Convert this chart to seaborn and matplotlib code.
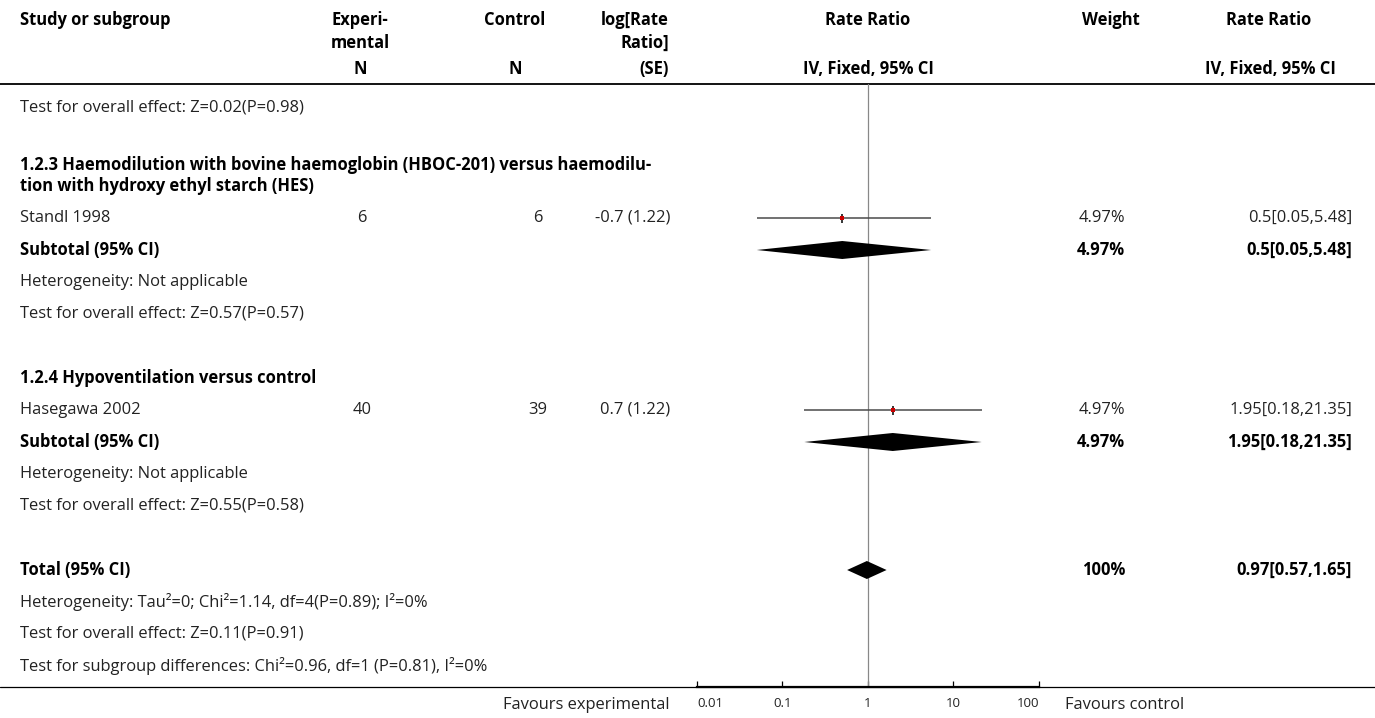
import numpy as np
import pandas as pd
import matplotlib
matplotlib.use("Agg")
import matplotlib.pyplot as plt
import seaborn as sns

# ---------------- data ----------------
prev_effect = "Test for overall effect: Z=0.02(P=0.98)"

subgroup_titles = [
    "1.2.3 Haemodilution with bovine haemoglobin (HBOC-201) versus haemodilu-\ntion with hydroxy ethyl starch (HES)",
    "1.2.4 Hypoventilation versus control",
]
studies = ["Standl 1998", "Hasegawa 2002"]
exp_n = [6, 40]
ctrl_n = [6, 39]
log_rr_se = ["-0.7 (1.22)", "0.7 (1.22)"]
study_rr = [0.5, 1.95]
study_lo = [0.05, 0.18]
study_hi = [5.48, 21.35]
study_weight = ["4.97%", "4.97%"]
study_ci_text = ["0.5[0.05,5.48]", "1.95[0.18,21.35]"]

subtotal_rr = [0.5, 1.95]
subtotal_lo = [0.05, 0.18]
subtotal_hi = [5.48, 21.35]
subtotal_weight = ["4.97%", "4.97%"]
subtotal_ci_text = ["0.5[0.05,5.48]", "1.95[0.18,21.35]"]
subtotal_het = ["Heterogeneity: Not applicable", "Heterogeneity: Not applicable"]
subtotal_effect = ["Test for overall effect: Z=0.57(P=0.57)",
                   "Test for overall effect: Z=0.55(P=0.58)"]

total_rr = 0.97
total_lo = 0.57
total_hi = 1.65
total_weight = "100%"
total_ci_text = "0.97[0.57,1.65]"
total_notes = [
    "Heterogeneity: Tau\u00b2=0; Chi\u00b2=1.14, df=4(P=0.89); I\u00b2=0%",
    "Test for overall effect: Z=0.11(P=0.91)",
    "Test for subgroup differences: Chi\u00b2=0.96, df=1 (P=0.81), I\u00b2=0%",
]

axis_ticks = [0.01, 0.1, 1, 10, 100]
axis_tick_labels = ["0.01", "0.1", "1", "10", "100"]
favours = ["Favours experimental", "Favours control"]

# ---------------- style ----------------
sns.set_theme(style="white")
plt.rcParams["font.family"] = ["Open Sans", "DejaVu Sans"]
W, H = 1375, 718
FS = 11.9
TXT = "#222222"

fig = plt.figure(figsize=(W / 100, H / 100), dpi=100)
ax0 = fig.add_axes([0, 0, 1, 1])
ax0.set_xlim(0, W)
ax0.set_ylim(H, 0)
ax0.axis("off")

# layout (pixel rows)
pitch = 32
header_line_y = 84
axis_y = 687
plot_x0, plot_x1 = 697, 1039

ax = fig.add_axes([plot_x0 / W, 1 - axis_y / H, (plot_x1 - plot_x0) / W,
                   (axis_y - header_line_y) / H])
ax.set_facecolor("none")
ax.set_xscale("log")
ax.set_xlim(axis_ticks[0], axis_ticks[-1])
ax.set_ylim(axis_y, header_line_y)


def txt(x, y, s, ha="left", bold=False, size=FS, color=None):
    ax0.text(x, y, s, ha=ha, va="center", fontsize=size,
             fontweight="bold" if bold else "normal",
             color=color or ("black" if bold else TXT))


# header
hy = [20, 43, 69]
txt(20, hy[0], "Study or subgroup", bold=True)
txt(360, hy[0], "Experi-", ha="center", bold=True)
txt(360, hy[1], "mental", ha="center", bold=True)
txt(360, hy[2], "N", ha="center", bold=True)
txt(515, hy[0], "Control", ha="center", bold=True)
txt(515, hy[2], "N", ha="center", bold=True)
txt(669, hy[0], "log[Rate", ha="right", bold=True)
txt(669, hy[1], "Ratio]", ha="right", bold=True)
txt(669, hy[2], "(SE)", ha="right", bold=True)
txt(868, hy[0], "Rate Ratio", ha="center", bold=True)
txt(868, hy[2], "IV, Fixed, 95% CI", ha="center", bold=True)
txt(1111, hy[0], "Weight", ha="center", bold=True)
txt(1269, hy[0], "Rate Ratio", ha="center", bold=True)
txt(1270, hy[2], "IV, Fixed, 95% CI", ha="center", bold=True)
ax0.plot([0, W], [header_line_y, header_line_y], color="black", lw=1.3)

# rows
y = 107
txt(20, y, prev_effect)
for g in range(len(studies)):
    y += 2 * pitch
    lines = subgroup_titles[g].split("\n")
    if len(lines) > 1:
        top = y - 6
        for k, ln in enumerate(lines):
            txt(20, top + 21 * k, ln, bold=True)
        y = top + 21 * (len(lines) - 1)
    else:
        txt(20, y, lines[0], bold=True)
    # study row
    y += pitch
    txt(20, y, studies[g])
    txt(362, y, str(exp_n[g]), ha="center")
    txt(538, y, str(ctrl_n[g]), ha="center")
    txt(670, y, log_rr_se[g], ha="right")
    txt(1125, y, study_weight[g], ha="right")
    txt(1352, y, study_ci_text[g], ha="right")
    ax.hlines(y, study_lo[g], study_hi[g], color="#4a4a4a", lw=1.1, zorder=3)
    ax.vlines(study_rr[g], y - 4.5, y + 4.5, color="black", lw=1.1, zorder=4)
    sns.scatterplot(x=[study_rr[g]], y=[y], marker="s", color="#cc0000", s=7,
                    linewidth=0, ax=ax, zorder=5, legend=False)
    # subtotal
    y += pitch
    txt(20, y, "Subtotal (95% CI)", bold=True)
    txt(1125, y, subtotal_weight[g], ha="right", bold=True)
    txt(1352, y, subtotal_ci_text[g], ha="right", bold=True)
    ax.fill([subtotal_lo[g], subtotal_rr[g], subtotal_hi[g], subtotal_rr[g]],
            [y, y - 9, y, y + 9], color="black", lw=0, zorder=3)
    y += pitch
    txt(20, y, subtotal_het[g])
    y += pitch
    txt(20, y, subtotal_effect[g])

# total
y += 2 * pitch
txt(20, y, "Total (95% CI)", bold=True)
txt(1125, y, total_weight, ha="right", bold=True)
txt(1352, y, total_ci_text, ha="right", bold=True)
ax.fill([total_lo, total_rr, total_hi, total_rr], [y, y - 9, y, y + 9],
        color="black", lw=0, zorder=3)
for note in total_notes:
    y += pitch
    txt(20, y, note)

# reference line and axis
ax.axvline(1, color="#888888", lw=0.9, zorder=1)
ax0.plot([0, W], [axis_y, axis_y], color="black", lw=0.9)
for s in ["top", "left", "right"]:
    ax.spines[s].set_visible(False)
ax.spines["bottom"].set_linewidth(1.6)
ax.spines["bottom"].set_color("black")
ax.set_yticks([])
ax.xaxis.set_minor_locator(matplotlib.ticker.NullLocator())
ax.set_xticks(axis_ticks)
ax.set_xticklabels(axis_tick_labels)
ax.tick_params(axis="x", direction="in", length=4, width=0.9, colors="black",
               labelsize=9.5, pad=7, bottom=True)
labs = ax.get_xticklabels()
for lab in labs:
    lab.set_color(TXT)
labs[0].set_horizontalalignment("left")
labs[-1].set_horizontalalignment("right")
ax.set_xlabel("")
ax.set_ylabel("")

txt(670, axis_y + 18, favours[0], ha="right")
txt(1065, axis_y + 18, favours[1], ha="left")

fig.savefig("out.png", dpi=100)
